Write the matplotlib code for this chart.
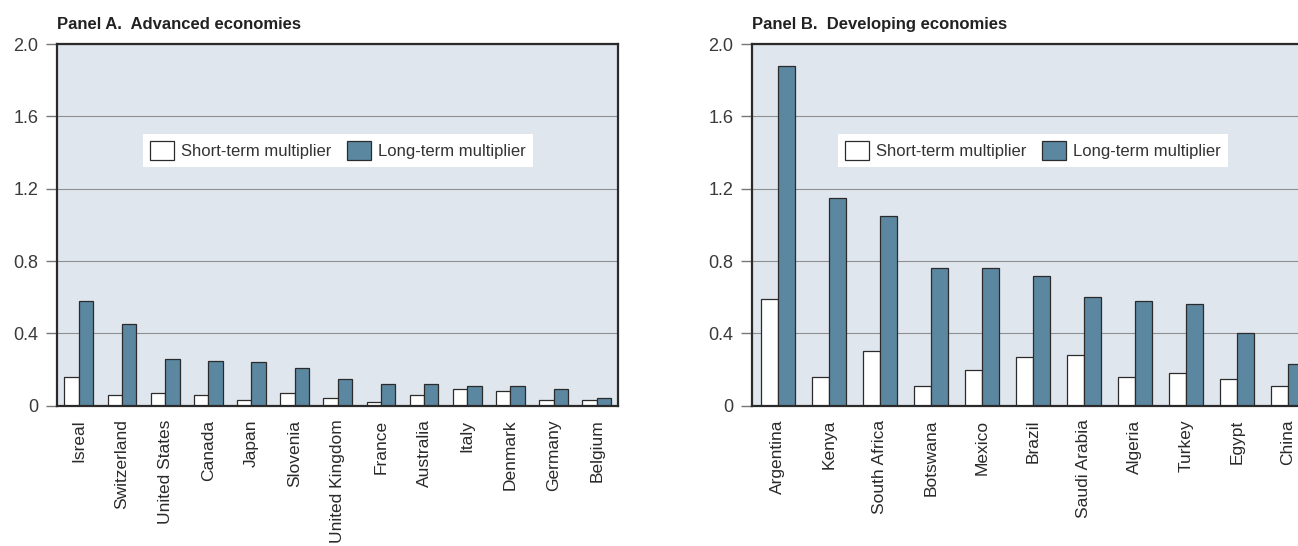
import numpy as np
import matplotlib
matplotlib.use("Agg")
import matplotlib.pyplot as plt
from matplotlib.patches import Patch

# Panel A: advanced economies
adv_countries = ["Isreal", "Switzerland", "United States", "Canada", "Japan", "Slovenia",
                 "United Kingdom", "France", "Australia", "Italy", "Denmark", "Germany", "Belgium"]
adv_short = [0.16, 0.06, 0.07, 0.06, 0.03, 0.07, 0.04, 0.02, 0.06, 0.09, 0.08, 0.03, 0.03]
adv_long = [0.58, 0.45, 0.26, 0.25, 0.24, 0.21, 0.15, 0.12, 0.12, 0.11, 0.11, 0.09, 0.04]

# Panel B: developing economies
dev_countries = ["Argentina", "Kenya", "South Africa", "Botswana", "Mexico", "Brazil",
                 "Saudi Arabia", "Algeria", "Turkey", "Egypt", "China"]
dev_short = [0.59, 0.16, 0.30, 0.11, 0.20, 0.27, 0.28, 0.16, 0.18, 0.15, 0.11]
dev_long = [1.88, 1.15, 1.05, 0.76, 0.76, 0.72, 0.60, 0.58, 0.56, 0.40, 0.23]

y_ticks = [0, 0.4, 0.8, 1.2, 1.6, 2.0]
y_labels = ["0", "0.4", "0.8", "1.2", "1.6", "2.0"]

BG = "#e0e6ee"
LONG_COL = "#5b87a1"
EDGE = "#2b2b2b"

plt.rcParams["font.family"] = ["Liberation Sans", "DejaVu Sans"]

W, H = 1298, 546
fig = plt.figure(figsize=(W / 100, H / 100), dpi=100)


def panel(left_px, title, cats, short, long_):
    ax = fig.add_axes([left_px / W, (H - 405.7) / H, 561 / W, 361.6 / H])
    n = len(cats)
    x = np.arange(n)
    w = 1 / 3
    ax.set_facecolor(BG)
    ax.bar(x - w / 2, short, w, color="white", edgecolor=EDGE, linewidth=0.9, zorder=3)
    ax.bar(x + w / 2, long_, w, color=LONG_COL, edgecolor=EDGE, linewidth=0.9, zorder=3)
    ax.set_xlim(-0.5, n - 0.5)
    ax.set_ylim(0, 2.0)
    ax.set_yticks(y_ticks)
    ax.set_yticklabels(y_labels)
    ax.set_xticks(x)
    ax.set_xticklabels(cats, rotation=90, va="top", ha="center")
    ax.tick_params(axis="x", length=0, pad=10, labelsize=12.5, labelcolor="#2a2a2a")
    ax.tick_params(axis="y", length=7.6, width=1, color="#777777", pad=6,
                   labelsize=13, labelcolor="#3a3a3a")
    ax.grid(axis="y", color="#8f8f8f", linewidth=0.8, zorder=1)
    ax.set_axisbelow(True)
    for s in ax.spines.values():
        s.set_color("#2a2a2a")
        s.set_linewidth(1.6)
        s.set_zorder(4)
    ax.text(0, 1 + (44.3 - 29.3) / 361.6, title, transform=ax.transAxes,
            ha="left", va="baseline", fontsize=12, fontweight="bold", color="#222222")
    handles = [Patch(facecolor="white", edgecolor=EDGE, linewidth=0.9),
               Patch(facecolor=LONG_COL, edgecolor=EDGE, linewidth=0.9)]
    leg = ax.legend(handles, ["Short-term multiplier", "Long-term multiplier"], ncol=2,
                    loc="center", bbox_to_anchor=(0.5, 0.705), fontsize=12,
                    frameon=True, fancybox=False, framealpha=1, facecolor="white",
                    edgecolor="none", handlelength=1.44, handleheight=1.38,
                    handletextpad=0.4, columnspacing=0.96, borderpad=0.42,
                    borderaxespad=0)
    for t in leg.get_texts():
        t.set_color("#333333")
    return ax


panel(57.3, "Panel A.  Advanced economies", adv_countries, adv_short, adv_long)
panel(752.3, "Panel B.  Developing economies", dev_countries, dev_short, dev_long)

fig.savefig("out.png", dpi=100, facecolor="white")
